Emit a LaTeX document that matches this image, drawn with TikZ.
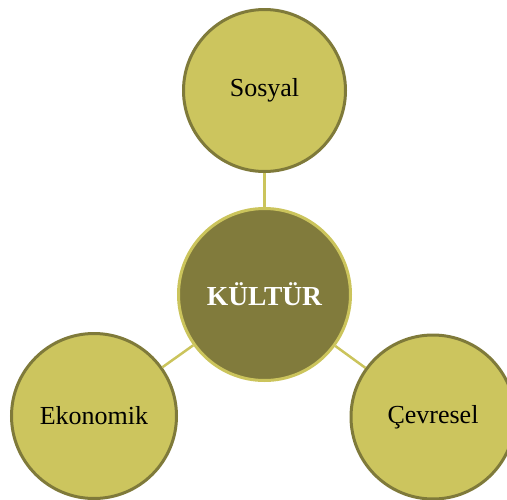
\documentclass[tikz,border=0pt]{standalone}
\usepackage{fontspec}
\setmainfont{Liberation Serif}
\definecolor{outerfill}{HTML}{CCC55E}
\definecolor{outerdraw}{HTML}{7F7A3A}
\definecolor{centerfill}{HTML}{817B3C}
\definecolor{centerdraw}{HTML}{CBC45C}
\begin{document}
\begin{tikzpicture}[x=1pt,y=-1pt,
  outernode/.style={circle, fill=outerfill, draw=outerdraw, line width=3pt, inner sep=0pt, font=\fontsize{26}{30}\selectfont, text=black},
  centernode/.style={circle, fill=centerfill, draw=centerdraw, line width=3pt, inner sep=0pt, minimum size=172pt, font=\fontsize{27.5}{32}\selectfont\bfseries, text=white},
  link/.style={draw=centerdraw, line width=2.5pt}]
\useasboundingbox (0,0) rectangle (507,499);
\clip (0,0) rectangle (507,499);
\node[centernode] (c) at (264.5,294.5) {KÜLTÜR};
\node[outernode, minimum size=162pt] (s) at (264.5,90.5) {Sosyal};
\node[outernode, minimum size=165pt] (e) at (94,416) {Ekonomik};
\node[outernode, minimum size=164pt] (v) at (433,417) {Çevresel};
\draw[link] (c) -- (s);
\draw[link] (c) -- (e);
\draw[link] (c) -- (v);
\end{tikzpicture}
\end{document}
